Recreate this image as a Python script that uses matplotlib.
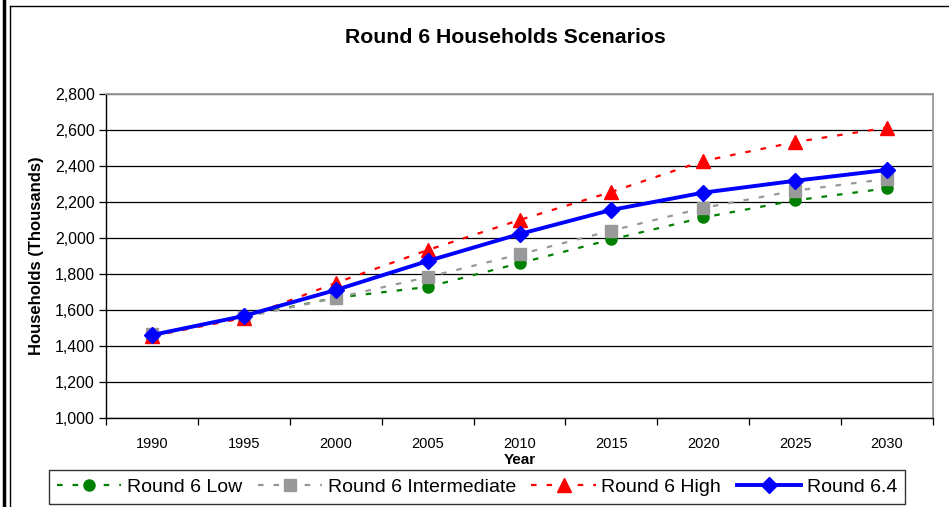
import matplotlib
matplotlib.use("Agg")
import matplotlib.pyplot as plt
import numpy as np
from matplotlib.lines import Line2D
from matplotlib.ticker import FuncFormatter, FixedLocator

plt.rcParams['font.family'] = ['Liberation Sans', 'DejaVu Sans']

years = ["1990", "1995", "2000", "2005", "2010", "2015", "2020", "2025", "2030"]
low = [1460, 1565, 1668, 1728, 1860, 1992, 2114, 2209, 2276]
intermediate = [1465, 1560, 1667, 1783, 1909, 2041, 2167, 2263, 2328]
high = [1455, 1556, 1750, 1933, 2100, 2256, 2428, 2533, 2613]
round64 = [1461, 1567, 1711, 1872, 2022, 2156, 2252, 2318, 2378]

W, H = 949, 507
fig = plt.figure(figsize=(W / 100, H / 100), dpi=100)
ax = fig.add_axes([106 / W, (H - 418) / H, (933 - 106) / W, (418 - 94) / H])

x = np.arange(len(years))
dash = (2.5, 4.5)
ax.plot(x, low, color='#008000', lw=1.6, dashes=dash, marker='o', ms=8,
        label='Round 6 Low', zorder=3)
ax.plot(x, intermediate, color='#999999', lw=1.6, dashes=dash, marker='s', ms=8,
        label='Round 6 Intermediate', zorder=3)
ax.plot(x, high, color='#ff0000', lw=1.6, dashes=dash, marker='^', ms=9.5,
        label='Round 6 High', zorder=3)
ax.plot(x, round64, color='#0000ff', lw=2.8, marker='D', ms=8.5,
        label='Round 6.4', zorder=4)

ax.set_xlim(-0.5, len(years) - 0.5)
ax.set_ylim(1000, 2800)
ax.set_yticks(np.arange(1000, 2801, 200))
ax.yaxis.set_major_formatter(FuncFormatter(lambda v, p: f"{int(v):,}"))
ax.yaxis.grid(True, color='black', lw=0.9)
ax.set_axisbelow(True)

ax.set_xticks(x)
ax.set_xticklabels(years)
ax.xaxis.set_minor_locator(FixedLocator(np.arange(-0.5, len(years), 1.0)))
ax.tick_params(axis='x', which='major', length=0, pad=14, labelsize=10.5)
ax.tick_params(axis='x', which='minor', length=5, width=0.9, direction='out')
ax.tick_params(axis='y', length=5, width=0.9, direction='out', labelsize=11.5, pad=3)

for s in ['left', 'bottom']:
    ax.spines[s].set_color('black')
    ax.spines[s].set_linewidth(1.0)
for s in ['top', 'right']:
    ax.spines[s].set_color('#999999')
    ax.spines[s].set_linewidth(1.3)

ax.set_xlabel('Year', fontsize=11, fontweight='bold', labelpad=1)
ax.set_ylabel('Households (Thousands)', fontsize=12, fontweight='bold', labelpad=8)
fig.text(505 / W, 1 - 38 / H, 'Round 6 Households Scenarios', ha='center', va='center',
         fontsize=15.3, fontweight='bold')

leg = fig.legend(loc='center', bbox_to_anchor=(477 / W, 1 - 487 / H), ncol=4,
                 fontsize=14, frameon=True, fancybox=False, edgecolor='black',
                 handlelength=3.3, handletextpad=0.3, columnspacing=0.8,
                 borderpad=0.42, borderaxespad=0)
leg.get_frame().set_linewidth(1.0)

# outer chart borders
fig.add_artist(Line2D([4 / W, 4 / W], [0, 1], color='black', lw=2.5, transform=fig.transFigure))
fig.add_artist(Line2D([10 / W, 10 / W], [0, 1 - 6 / H], color='black', lw=1.0, transform=fig.transFigure))
fig.add_artist(Line2D([10 / W, 1], [1 - 6 / H, 1 - 6 / H], color='black', lw=1.0, transform=fig.transFigure))

fig.savefig('out.png', dpi=100)
